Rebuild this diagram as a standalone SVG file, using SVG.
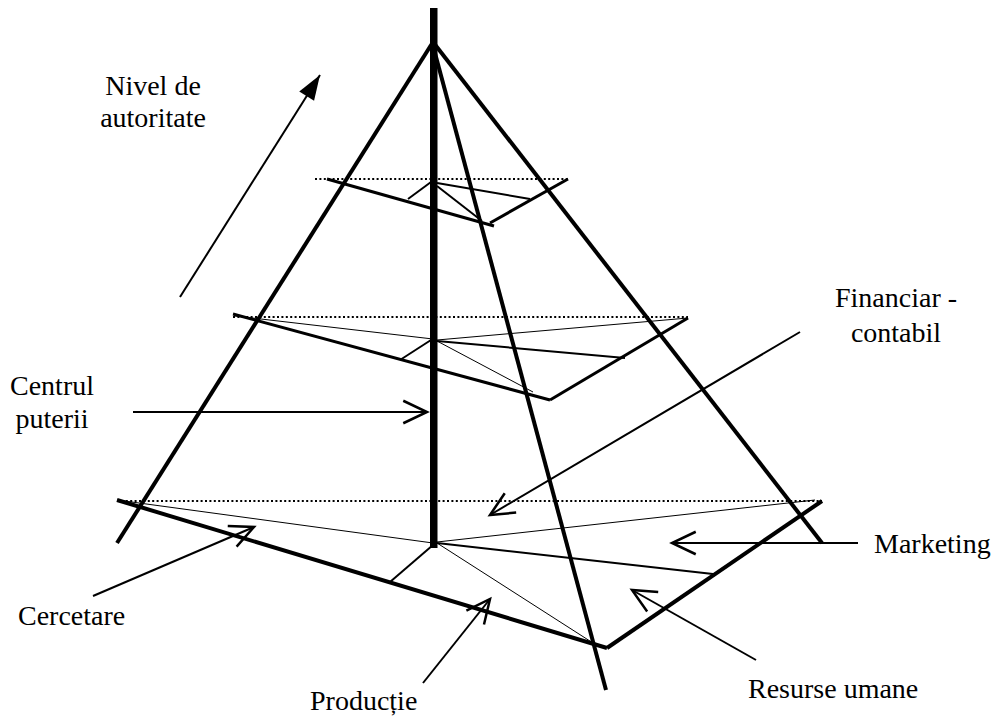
<svg xmlns="http://www.w3.org/2000/svg" width="1007" height="719" viewBox="0 0 1007 719">
<style>
.lbl{font-family:"Liberation Serif","Times New Roman",serif;font-size:28px;fill:#000}
.edge{stroke:#000;stroke-width:4;fill:none}
.l3{stroke:#000;stroke-width:3;fill:none}
.l2{stroke:#000;stroke-width:2;fill:none}
.l1{stroke:#000;stroke-width:1;fill:none}
.dot{stroke:#000;stroke-width:2;stroke-dasharray:2 2.4;fill:none}
.arr{stroke:#000;stroke-width:2;fill:none;marker-end:url(#open)}
</style>
<defs>
<marker id="open" markerUnits="userSpaceOnUse" markerWidth="30" markerHeight="30" refX="0" refY="0" viewBox="-22 -12 24 24" orient="auto" overflow="visible">
<path d="M-19,-9 L0,0 L-19,9" stroke="#000" stroke-width="2" fill="none"/>
</marker>
<marker id="solid" markerUnits="userSpaceOnUse" markerWidth="30" markerHeight="30" refX="0" refY="0" viewBox="-22 -12 24 24" orient="auto" overflow="visible">
<path d="M0,0 L-20,-7 L-20,7 Z" fill="#000"/>
</marker>
</defs>
<rect width="1007" height="719" fill="#fff"/>

<g id="pyramid">
<line class="edge" x1="433" y1="42" x2="117" y2="543"/>
<line class="edge" x1="433" y1="42" x2="822" y2="543"/>
<line class="edge" x1="432" y1="42" x2="606" y2="690"/>
</g>

<g id="level1">
<line class="dot" x1="315" y1="179" x2="568" y2="179"/>
<line class="l3" x1="327" y1="179" x2="494" y2="226"/>
<line class="l3" x1="568" y1="179" x2="490" y2="223"/>
<line class="l2" x1="431" y1="182" x2="408" y2="199"/>
<line class="l2" x1="437" y1="183" x2="530" y2="199"/>
<line class="l2" x1="437" y1="186" x2="482" y2="221"/>
</g>

<g id="level2">
<line class="dot" x1="233" y1="317" x2="688" y2="317"/>
<line class="l3" x1="233" y1="314" x2="550" y2="400"/>
<line class="l3" x1="550" y1="400" x2="688" y2="318"/>
<line class="l1" x1="235" y1="316" x2="433" y2="339"/>
<line class="l1" x1="437" y1="340" x2="688" y2="318"/>
<line class="l2" x1="437" y1="341" x2="625" y2="358"/>
<line class="l1" x1="437" y1="341" x2="533" y2="392"/>
<line class="l2" x1="400" y1="360" x2="431" y2="340"/>
</g>

<g id="level3">
<line class="dot" x1="117" y1="501" x2="822" y2="501"/>
<line class="edge" x1="117" y1="500" x2="607" y2="648"/>
<line class="edge" x1="607" y1="648" x2="822" y2="501"/>
<line class="l1" x1="117" y1="500" x2="433" y2="543"/>
<line class="l1" x1="437" y1="542" x2="815" y2="500"/>
<line class="l2" x1="437" y1="543" x2="713" y2="574"/>
<line class="l1" x1="437" y1="543" x2="593" y2="643"/>
<line class="l2" x1="433" y1="545" x2="390" y2="582"/>
</g>

<g id="pole">
<rect x="430" y="8" width="7.5" height="540" fill="#000"/>
</g>

<g id="connectors">
<line x1="180" y1="297" x2="320" y2="75" stroke="#000" stroke-width="2" marker-end="url(#solid)"/>
<line class="arr" x1="133" y1="412" x2="427" y2="412"/>
<line class="arr" x1="800" y1="332" x2="490" y2="515"/>
<line class="arr" x1="858" y1="543" x2="672" y2="543"/>
<line class="arr" x1="756" y1="660" x2="632" y2="590"/>
<line class="arr" x1="423" y1="683" x2="490" y2="599"/>
<line class="arr" x1="93" y1="596" x2="254" y2="527"/>
</g>

<g id="labels" font-family="Liberation Serif, Times New Roman, serif" font-size="28">
<g id="label-nivel">
<text class="lbl" x="153" y="95" text-anchor="middle">Nivel de</text>
<text class="lbl" x="153" y="127" text-anchor="middle">autoritate</text>
</g>
<g id="label-centrul">
<text class="lbl" x="52" y="395" text-anchor="middle">Centrul</text>
<text class="lbl" x="52" y="428" text-anchor="middle">puterii</text>
</g>
<g id="label-financiar">
<text class="lbl" x="896" y="307" text-anchor="middle">Financiar -</text>
<text class="lbl" x="896" y="342" text-anchor="middle">contabil</text>
</g>
<g id="label-marketing"><text class="lbl" x="874" y="553">Marketing</text></g>
<g id="label-resurse"><text class="lbl" x="748" y="698">Resurse umane</text></g>
<g id="label-productie"><text class="lbl" x="310" y="710">Producție</text></g>
<g id="label-cercetare"><text class="lbl" x="18" y="625">Cercetare</text></g>
</g>
</svg>
